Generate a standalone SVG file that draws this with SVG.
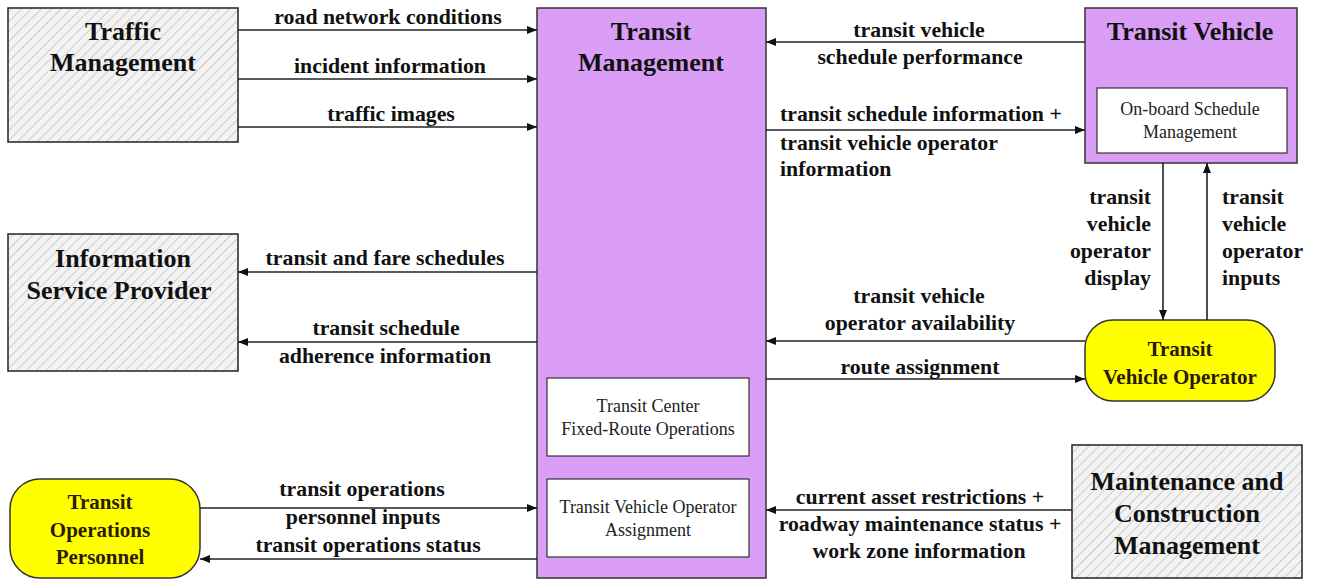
<svg xmlns="http://www.w3.org/2000/svg" width="1317" height="582" viewBox="0 0 1317 582">
<style>
.lbl{font-family:"Liberation Serif","Times New Roman",serif;font-weight:bold;font-size:21.8px;fill:#111}
.ttl{font-family:"Liberation Serif","Times New Roman",serif;font-weight:bold;font-size:26px;fill:#111}
.ytl{font-family:"Liberation Serif","Times New Roman",serif;font-weight:bold;font-size:21px;fill:#2a1a00}
.inr{font-family:"Liberation Serif","Times New Roman",serif;font-size:18px;fill:#222}
.c{text-anchor:middle}
.e{text-anchor:end}
.hatch{fill:url(#hp);stroke:#222;stroke-width:1.5}
.purple{fill:#DA9EF6;stroke:#333;stroke-width:1.5}
.yellow{fill:#FFFF00;stroke:#333;stroke-width:1.5}
.inner{fill:#fff;stroke:#333;stroke-width:1.2}
.conn line{stroke:#222;stroke-width:1.6;marker-end:url(#ah)}
</style>
<defs>
<pattern id="hp" width="7" height="7" patternUnits="userSpaceOnUse" patternTransform="rotate(45)">
<rect width="7" height="7" fill="#f3f3f3"/>
<line x1="0" y1="0" x2="0" y2="7" stroke="#c4c4c4" stroke-width="1.6"/>
</pattern>
<marker id="ah" viewBox="0 0 10 8" refX="10" refY="4" markerWidth="10" markerHeight="8" markerUnits="userSpaceOnUse" orient="auto">
<path d="M0,0 L10,4 L0,8 Z" fill="#111"/>
</marker>
</defs>
<rect width="1317" height="582" fill="#fff"/>

<g id="traffic-management">
<rect class="hatch" x="8" y="8" width="230" height="134"/>
<text class="ttl c" x="123" y="40">Traffic</text>
<text class="ttl c" x="123" y="71">Management</text>
</g>

<g id="information-service-provider">
<rect class="hatch" x="8" y="234" width="230" height="137"/>
<text class="ttl c" x="123" y="267">Information</text>
<text class="ttl c" x="119" y="299">Service Provider</text>
</g>

<g id="transit-management">
<rect class="purple" x="537" y="8" width="229" height="570"/>
<text class="ttl c" x="651" y="40">Transit</text>
<text class="ttl c" x="651" y="71">Management</text>
<rect class="inner" x="547" y="378" width="202" height="78"/>
<text class="inr c" x="648" y="412">Transit Center</text>
<text class="inr c" x="648" y="435">Fixed-Route Operations</text>
<rect class="inner" x="547" y="479" width="202" height="78"/>
<text class="inr c" x="648" y="513">Transit Vehicle  Operator</text>
<text class="inr c" x="648" y="536">Assignment</text>
</g>

<g id="transit-vehicle">
<rect class="purple" x="1085" y="8" width="212" height="155"/>
<text class="ttl c" x="1190" y="40">Transit  Vehicle</text>
<rect class="inner" x="1097" y="88" width="190" height="65"/>
<text class="inr c" x="1190" y="115">On-board Schedule</text>
<text class="inr c" x="1190" y="138">Management</text>
</g>

<g id="transit-vehicle-operator">
<rect class="yellow" x="1085" y="320" width="190" height="81" rx="28" ry="28"/>
<text class="ytl c" x="1180" y="356">Transit</text>
<text class="ytl c" x="1180" y="384">Vehicle Operator</text>
</g>

<g id="transit-operations-personnel">
<rect class="yellow" x="10" y="479" width="190" height="99" rx="30" ry="30"/>
<text class="ytl c" x="100" y="509">Transit</text>
<text class="ytl c" x="100" y="537">Operations</text>
<text class="ytl c" x="100" y="564">Personnel</text>
</g>

<g id="maintenance-construction-management">
<rect class="hatch" x="1072" y="445" width="230" height="133"/>
<text class="ttl c" x="1187" y="490">Maintenance and</text>
<text class="ttl c" x="1187" y="522">Construction</text>
<text class="ttl c" x="1187" y="554">Management</text>
</g>

<g id="connectors" class="conn">
<line x1="238" y1="30" x2="537" y2="30"/>
<line x1="238" y1="79" x2="537" y2="79"/>
<line x1="238" y1="127" x2="537" y2="127"/>
<line x1="537" y1="272" x2="238" y2="272"/>
<line x1="537" y1="342" x2="238" y2="342"/>
<line x1="1085" y1="42" x2="766" y2="42"/>
<line x1="766" y1="130" x2="1085" y2="130"/>
<line x1="1163" y1="163" x2="1163" y2="320"/>
<line x1="1207" y1="320" x2="1207" y2="163"/>
<line x1="1085" y1="341" x2="766" y2="341"/>
<line x1="766" y1="379" x2="1085" y2="379"/>
<line x1="200" y1="508" x2="537" y2="508"/>
<line x1="537" y1="559" x2="200" y2="559"/>
<line x1="1072" y1="510" x2="766" y2="510"/>
</g>

<g id="connector-labels">
<text class="lbl c" x="388" y="24">road network conditions</text>
<text class="lbl c" x="390" y="73">incident information</text>
<text class="lbl c" x="391" y="121">traffic images</text>
<text class="lbl c" x="385" y="265">transit and fare schedules</text>
<text class="lbl c" x="386" y="335">transit schedule</text>
<text class="lbl c" x="385" y="363">adherence information</text>
<text class="lbl c" x="919" y="37">transit vehicle</text>
<text class="lbl c" x="920" y="64">schedule performance</text>
<text class="lbl" x="780" y="121">transit schedule information +</text>
<text class="lbl" x="780" y="150">transit vehicle operator</text>
<text class="lbl" x="780" y="176">information</text>
<text class="lbl e" x="1151" y="204">transit</text>
<text class="lbl e" x="1151" y="231">vehicle</text>
<text class="lbl e" x="1151" y="258">operator</text>
<text class="lbl e" x="1151" y="285">display</text>
<text class="lbl" x="1222" y="204">transit</text>
<text class="lbl" x="1222" y="231">vehicle</text>
<text class="lbl" x="1222" y="258">operator</text>
<text class="lbl" x="1222" y="285">inputs</text>
<text class="lbl c" x="919" y="303">transit vehicle</text>
<text class="lbl c" x="920" y="330">operator availability</text>
<text class="lbl c" x="920" y="374">route assignment</text>
<text class="lbl c" x="362" y="496">transit operations</text>
<text class="lbl c" x="363" y="524">personnel inputs</text>
<text class="lbl c" x="368" y="552">transit operations status</text>
<text class="lbl c" x="920" y="504">current asset restrictions +</text>
<text class="lbl c" x="920" y="531">roadway maintenance status +</text>
<text class="lbl c" x="919" y="558">work zone information</text>
</g>
</svg>
